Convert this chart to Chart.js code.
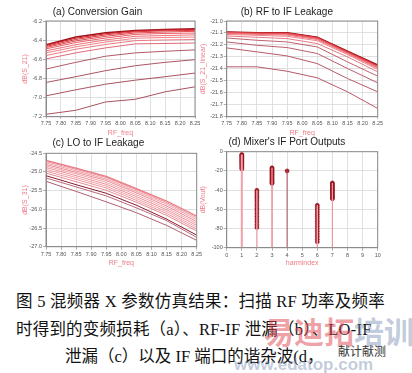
<!DOCTYPE html>
<html>
<head>
<meta charset="utf-8">
<script src="https://cdn.jsdelivr.net/npm/chart.js@4.4.0/dist/chart.umd.min.js"></script>
<style>
html, body { margin: 0; padding: 0; background: #fff; width: 412px; height: 373px; overflow: hidden; }
#wrap { position: relative; width: 412px; height: 373px; }
canvas { position: absolute; }
.cap { position: absolute; font-family: "Liberation Serif", "Noto Sans CJK SC", serif; font-size: 16.5px; color: #111; white-space: nowrap; line-height: 1; }
.wm { position: absolute; white-space: nowrap; line-height: 1; font-family: "Noto Sans CJK SC", sans-serif; font-weight: bold; }
</style>
</head>
<body>
<div id="wrap">
  <canvas id="chartA" width="206" height="140" style="left:0;top:0"></canvas>
  <canvas id="chartB" width="216" height="140" style="left:196px;top:0"></canvas>
  <canvas id="chartC" width="206" height="140" style="left:0;top:135px"></canvas>
  <canvas id="chartD" width="216" height="140" style="left:196px;top:135px"></canvas>

  <div class="cap" style="left:16px;top:294px;letter-spacing:0.25px">图 5 混频器 X 参数仿真结果：扫描 RF 功率及频率</div>
  <div class="cap" style="left:16px;top:322px;letter-spacing:0.2px">时得到的变频损耗（a）、RF-IF 泄漏（b）、LO-IF</div>
  <div class="cap" style="left:65px;top:349px">泄漏（c）以及 IF 端口的谐杂波(d，</div>

  <div class="wm" style="left:264px;top:315px;font-size:30px;color:rgba(222,70,80,0.5)">易迪拓<span style="color:rgba(120,140,175,0.45)">培训</span></div>
  <div class="wm" style="left:338px;top:345px;font-size:12px;font-weight:normal;color:#333">献计献测</div>
  <div class="wm" style="left:234px;top:356px;font-size:17px;font-family:'Liberation Sans',sans-serif;color:rgba(120,140,175,0.45)">www.edatop.com</div>
</div>

<script>
// RF sweep points (GHz)
const freqs = [7.75, 7.85, 7.95, 8.05, 8.15, 8.25];

// (a) Conversion gain, one row per RF power step (lowest curve first)
const gainSeries = [
  [-7.175, -7.133, -7.046, -7.018, -6.940, -6.888],
  [-6.982, -6.919, -6.860, -6.818, -6.782, -6.744],
  [-6.842, -6.782, -6.719, -6.667, -6.632, -6.604],
  [-6.702, -6.632, -6.568, -6.533, -6.516, -6.502],
  [-6.596, -6.533, -6.481, -6.439, -6.435, -6.430],
  [-6.561, -6.495, -6.445, -6.405, -6.398, -6.393],
  [-6.533, -6.470, -6.420, -6.380, -6.372, -6.368],
  [-6.512, -6.448, -6.398, -6.360, -6.352, -6.345],
  [-6.491, -6.425, -6.378, -6.340, -6.330, -6.326],
  [-6.477, -6.408, -6.360, -6.325, -6.315, -6.308],
  [-6.466, -6.393, -6.345, -6.313, -6.302, -6.298],
  [-6.456, -6.380, -6.333, -6.305, -6.294, -6.288],
  [-6.449, -6.368, -6.323, -6.298, -6.288, -6.280]
];

// (b) RF to IF leakage
const rfLeakSeries = [
  [-21.383, -21.383, -21.420, -21.475, -21.592, -21.731],
  [-21.225, -21.258, -21.292, -21.356, -21.481, -21.592],
  [-21.175, -21.203, -21.222, -21.272, -21.397, -21.517],
  [-21.142, -21.161, -21.175, -21.217, -21.342, -21.461],
  [-21.125, -21.136, -21.147, -21.189, -21.300, -21.425],
  [-21.112, -21.120, -21.128, -21.165, -21.280, -21.405],
  [-21.105, -21.112, -21.118, -21.155, -21.272, -21.395],
  [-21.100, -21.107, -21.110, -21.148, -21.266, -21.388],
  [-21.097, -21.104, -21.105, -21.143, -21.262, -21.380],
  [-21.095, -21.101, -21.102, -21.140, -21.258, -21.375],
  [-21.093, -21.099, -21.100, -21.137, -21.255, -21.370],
  [-21.092, -21.098, -21.099, -21.135, -21.253, -21.368]
];

// (c) LO to IF leakage
const loLeakSeries = [
  [-25.25, -25.52, -25.80, -26.09, -26.43, -26.83],
  [-25.16, -25.40, -25.64, -25.96, -26.30, -26.75],
  [-25.10, -25.34, -25.57, -25.89, -26.26, -26.69],
  [-25.03, -25.26, -25.49, -25.81, -26.16, -26.58],
  [-24.98, -25.20, -25.43, -25.76, -26.11, -26.53],
  [-24.93, -25.15, -25.38, -25.71, -26.06, -26.48],
  [-24.88, -25.10, -25.33, -25.66, -26.01, -26.43],
  [-24.84, -25.05, -25.28, -25.61, -25.96, -26.38],
  [-24.80, -25.01, -25.23, -25.56, -25.91, -26.33],
  [-24.76, -24.97, -25.19, -25.52, -25.86, -26.28],
  [-24.72, -24.93, -25.15, -25.48, -25.82, -26.23],
  [-24.69, -24.90, -25.12, -25.45, -25.78, -26.18]
];

// (d) IF port spectrum: harmonic index and levels (dB) over the power sweep
const harmonics = [1, 2, 3, 4, 6, 7];
const harmLevels = [
  [-2.8, -3.6, -4.5, -5.4, -6.3, -7.3, -8.3, -9.2, -10.3, -11.3, -12.4, -13.5, -14.6, -15.8, -17.0, -17.9],
  [-40.2, -42.0, -44.1, -46.3, -48.6, -51.0, -53.5, -56.1, -58.8, -61.5, -64.3, -67.2, -70.1, -73.0, -76.0, -79.0],
  [-16.8, -17.8, -18.8, -19.9, -20.9, -22.0, -23.1, -24.1, -25.2, -26.3, -27.5, -28.7, -29.9, -31.1, -32.2, -33.0],
  [-20.0],
  [-55.8, -58.0, -60.3, -62.7, -65.1, -67.6, -70.1, -72.6, -75.1, -77.7, -80.3, -83.0, -85.7, -88.4, -91.2, -93.9],
  [-32.5, -33.5, -34.6, -35.7, -36.8, -37.9, -39.0, -40.1, -41.3, -42.5, -43.7, -44.9, -46.1, -47.2, -48.2, -49.0]
];

// trace colours (styles only)
const gainColors = ['#a8545f', '#a8545f', '#ab5662', '#b05a66', '#e06a77', '#ec7a84', '#f08189',
  '#ee6f78', '#ea5c64', '#e44a50', '#db383e', '#c8242a', '#a01218'];
const rfLeakColors = ['#b65a66', '#b85c68', '#bc5f6b', '#c0626e', '#e77a84', '#f0848c', '#ee727a',
  '#ea5f66', '#e34c52', '#d6383e', '#c0232a', '#9c1016'];
const loLeakColors = ['#b06272', '#b86a78', '#8c1c34', '#e88c96', '#ef98a0', '#f2a0a8', '#ee9098',
  '#f0a4ab', '#ec8a93', '#f29ca4', '#ee949c', '#e88088'];
const stemColors = ['#f2a0a8', '#f3a8b0', '#ec8c96', '#b04c5c', '#f0a0a8', '#ee98a0'];
const stemWidths = [2, 1.4, 1.4, 1, 1.4, 1.2];

Chart.defaults.font.family = "'Liberation Sans', Arial, sans-serif";
Chart.defaults.animation = false;

const frame = {
  id: 'frame',
  afterDatasetsDraw(chart) {
    const a = chart.chartArea, c = chart.ctx;
    c.save();
    c.strokeStyle = '#8c8c8c';
    c.lineWidth = 1;
    c.strokeRect(a.left, a.top, a.right - a.left, a.bottom - a.top);
    c.restore();
  }
};

function scaleOpts(s) {
  return {
    x: {
      type: 'linear', min: s.xMin, max: s.xMax,
      ticks: { stepSize: s.xStep, autoSkip: false, maxRotation: 0, font: { size: 5.5 }, color: '#555',
               padding: s.xPad, callback: v => v.toFixed(s.xDec) },
      grid: { color: '#d8d8d8', lineWidth: 0.8, tickLength: s.xTick, tickColor: '#999' },
      border: { color: '#8c8c8c' },
      title: { display: true, text: s.xTitle, color: '#ee7b88', font: { size: 7 }, padding: { top: 0, bottom: s.xTitlePad } },
      afterFit: sc => { sc.height = s.xHeight; }
    },
    y: {
      min: s.yMin, max: s.yMax,
      ticks: { stepSize: s.yStep, autoSkip: false, font: { size: 5.5 }, color: '#555', padding: 1,
               callback: v => v.toFixed(s.yDec) },
      grid: { color: '#d8d8d8', lineWidth: 0.8, tickLength: 3, tickColor: '#999' },
      border: { color: '#8c8c8c' },
      title: { display: true, text: s.yTitle, color: '#ee7b88', font: { size: 7 }, padding: { top: s.yTitlePad, bottom: 0 } },
      afterFit: sc => { sc.width = s.yWidth; }
    }
  };
}

function baseOptions(s) {
  return {
    responsive: false,
    devicePixelRatio: 1,
    layout: { padding: { left: 0, right: s.padRight, top: 0, bottom: 0 } },
    plugins: {
      legend: { display: false },
      tooltip: { enabled: false },
      title: { display: true, text: s.title, color: '#222', font: { size: 10, weight: 'normal' },
               padding: { top: s.titleTop, bottom: s.titleBottom } }
    },
    scales: scaleOpts(s)
  };
}

function sweepChart(id, series, colors, s) {
  new Chart(document.getElementById(id), {
    type: 'line',
    data: {
      datasets: series.map((vals, i) => ({
        data: freqs.map((f, j) => ({ x: f, y: vals[j] })),
        borderColor: colors[i],
        borderWidth: i === series.length - 1 ? 1.5 : 1,
        pointRadius: 0,
        tension: 0,
        fill: false
      }))
    },
    options: baseOptions(s),
    plugins: [frame]
  });
}

const freqAxis = { xMin: 7.75, xMax: 8.25, xStep: 0.05, xDec: 2, xTitle: 'RF_freq' };

sweepChart('chartA', gainSeries, gainColors, Object.assign({}, freqAxis, {
  title: '(a) Conversion Gain', titleTop: 6, titleBottom: 3, padRight: 11,
  yMin: -7.2, yMax: -6.2, yStep: 0.2, yDec: 1, yTitle: 'dB(S_21)', yWidth: 46, yTitlePad: 20.8,
  xHeight: 23.3, xTick: 2, xPad: 1, xTitlePad: 2.5
}));

sweepChart('chartB', rfLeakSeries, rfLeakColors, Object.assign({}, freqAxis, {
  title: '(b) RF to IF Leakage', titleTop: 6, titleBottom: 3, padRight: 34.3,
  yMin: -21.8, yMax: -21.0, yStep: 0.1, yDec: 1, yTitle: 'dB(S_21_linear)', yWidth: 30.7, yTitlePad: 2.8,
  xHeight: 23.3, xTick: 2, xPad: 1, xTitlePad: 2.5
}));

sweepChart('chartC', loLeakSeries, loLeakColors, Object.assign({}, freqAxis, {
  title: '(c) LO to IF Leakage', titleTop: 2.3, titleBottom: 4, padRight: 9.3,
  yMin: -27.0, yMax: -24.5, yStep: 0.5, yDec: 1, yTitle: 'dB(S_31)', yWidth: 46, yTitlePad: 20.8,
  xHeight: 28.3, xTick: 3, xPad: 1.6, xTitlePad: 7.8
}));

// (d) spectrum: stems from the floor up to the strongest level, plus the swept points
const stemSets = harmonics.map((h, i) => ({
  data: [{ x: h, y: -100 }, { x: h, y: Math.max(...harmLevels[i]) }],
  showLine: true, borderColor: stemColors[i], borderWidth: stemWidths[i], pointRadius: 0
}));
const markerSet = {
  data: harmonics.flatMap((h, i) => harmLevels[i].map(v => ({ x: h, y: v }))),
  showLine: false, pointRadius: 2, pointBorderWidth: 0.6,
  pointBackgroundColor: '#b01c28', pointBorderColor: '#8a1420', borderColor: '#8a1420'
};

new Chart(document.getElementById('chartD'), {
  type: 'scatter',
  data: { datasets: stemSets.concat([markerSet]) },
  options: baseOptions({
    title: "(d) Mixer's IF Port Outputs", titleTop: 1.3, titleBottom: 3.4, padRight: 34.3,
    xMin: 0, xMax: 10, xStep: 1, xDec: 0, xTitle: 'harmindex',
    yMin: -100, yMax: 0, yStep: 20, yDec: 0, yTitle: 'dB(Vout)', yWidth: 30.7, yTitlePad: 2.8,
    xHeight: 27.3, xTick: 3, xPad: 1.6, xTitlePad: 7.8
  }),
  plugins: [frame]
});
</script>
</body>
</html>
